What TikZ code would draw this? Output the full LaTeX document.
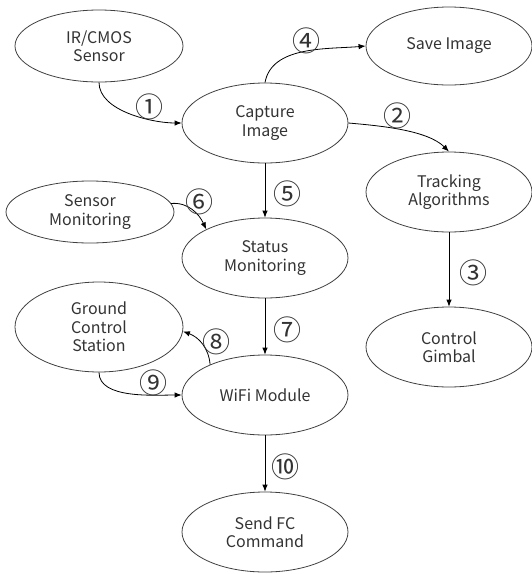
\documentclass[tikz,border=0pt]{standalone}
\usepackage{fontspec}
\setmainfont{Noto Sans CJK KR}
\usetikzlibrary{shapes.geometric,arrows.meta}
\definecolor{ink}{HTML}{333333}
\definecolor{edge}{HTML}{404040}
\tikzset{
  proc/.style={ellipse, draw=edge, line width=0.8pt, inner sep=0pt,
    minimum width=166pt, minimum height=80pt, align=center, text=ink,
    font=\fontsize{16}{18.5}\selectfont},
  arr/.style={draw=black, line width=0.8pt, -{Latex[length=7pt,width=5.5pt]}},
  num/.style={text=ink, inner sep=0pt, font=\fontsize{28}{28}\selectfont}
}
\begin{document}
\begin{tikzpicture}[x=1pt,y=-1pt]
\useasboundingbox (0,0) rectangle (532,574);
\node[proc, minimum width=168pt, minimum height=72pt] (ir) at (99,46) {IR/CMOS\\Sensor};
\node[proc] (cap) at (265,123) {Capture\\Image};
\node[proc, minimum height=78pt] (save) at (449,46) {Save Image};
\node[proc] (track) at (449,192) {Tracking\\Algorithms};
\node[proc] (gimbal) at (449,347) {Control\\Gimbal};
\node[proc, minimum width=168pt, minimum height=62pt] (sensmon) at (90,212) {Sensor\\Monitoring};
\node[proc] (status) at (265,258) {Status\\Monitoring};
\node[proc, minimum width=168pt, minimum height=90pt] (gcs) at (99,327) {Ground\\Control\\Station};
\node[proc] (wifi) at (265,395) {WiFi Module};
\node[proc] (send) at (265,532) {Send FC\\Command};

\draw[arr] (ir.south) to[out=-90, in=180, looseness=0.8] (cap.west);
\draw[arr] (cap.north) to[out=80, in=185, looseness=0.9] (save.west);
\draw[arr] (cap.east) to[out=-5, in=135, looseness=0.75] (track.north);
\draw[arr] (track.south) -- (gimbal.north);
\draw[arr] (cap.south) -- (status.north);
\draw[arr] (sensmon.6) to[out=5, in=115] (status.154.6);
\draw[arr] (status.south) -- (wifi.north);
\draw[arr] (wifi.151) to[out=95, in=-20] (gcs.-3);
\draw[arr] (gcs.south) to[out=-90, in=180, looseness=0.8] (wifi.west);
\draw[arr] (wifi.south) -- (send.north);

\node[num] (n1) at (149,107) {①};
\node[num] (n4) at (306,41) {④};
\node[num] (n2) at (397,116) {②};
\node[num] (n3) at (473,273) {③};
\node[num] (n5) at (287,194) {⑤};
\node[num] (n6) at (199,202) {⑥};
\node[num] (n7) at (287,330) {⑦};
\node[num] (n8) at (216,342) {⑧};
\node[num] (n9) at (153,383) {⑨};
\node[num] (n10) at (285,467) {⑩};
\end{tikzpicture}
\end{document}
